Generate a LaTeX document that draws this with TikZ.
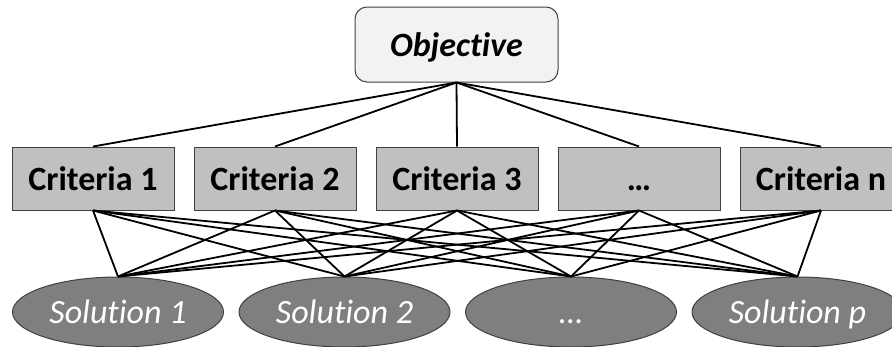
\documentclass[tikz,border=0pt]{standalone}
\usepackage{fontspec}
\setmainfont[Ligatures={NoCommon,NoRequired,NoContextual}]{Carlito}
\usetikzlibrary{shapes.geometric}
\definecolor{objfill}{HTML}{F2F2F2}
\definecolor{critfill}{HTML}{C0C0C0}
\definecolor{solfill}{HTML}{7F7F7F}
\definecolor{edgegray}{HTML}{404040}
\tikzset{
  objbox/.style={draw=edgegray, line width=1pt, fill=objfill, rounded corners=12pt,
    minimum width=203pt, minimum height=75pt, inner sep=0pt,
    text height=26pt, text depth=3pt,
    font=\fontsize{34}{40}\selectfont\bfseries\itshape},
  critbox/.style={draw=edgegray, line width=1pt, fill=critfill,
    minimum width=162pt, minimum height=63pt, inner sep=0pt,
    text height=26pt, text depth=3pt,
    font=\fontsize{34}{40}\selectfont\bfseries},
  solnode/.style={ellipse, draw=edgegray, line width=1pt, fill=solfill, text=white,
    minimum width=211pt, minimum height=70pt, inner sep=0pt,
    text height=26pt, text depth=3pt,
    font=\fontsize{34}{40}\selectfont\itshape},
  link/.style={line width=1.8pt, color=black}
}

\begin{document}
\begin{tikzpicture}[x=1pt,y=-1pt]
			%%%%% START %%%%%
			\path[use as bounding box, clip] (0,0) rectangle (892,346);
			
			\node[objbox] (obj) at (456.5,44.5) {Objective};
			
			\foreach \i/\x/\t in {1/93/Criteria 1, 2/275/Criteria 2, 3/457/Criteria 3, 4/639/…, 5/821/Criteria n}
				\node[critbox] (crit\i) at (\x,178.5) {\t};
			
			\foreach \j/\x/\t in {1/118/Solution 1, 2/344.5/Solution 2, 3/571/…, 4/797.5/Solution p}
				\node[solnode] (sol\j) at (\x,312) {\t};
			
			\foreach \i in {1,...,5}
				\draw[link] (obj.south) -- (crit\i.north);
			
			\foreach \i in {1,...,5}
				\foreach \j in {1,...,4}
					\draw[link] (crit\i.south) -- (sol\j.north);
			
			%%%%% END %%%%%
\end{tikzpicture}
\end{document}
